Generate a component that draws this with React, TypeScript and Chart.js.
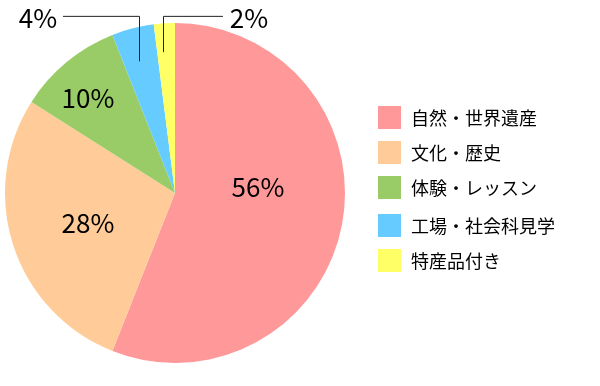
import React, { useEffect, useRef } from "react";
import { Chart, registerables } from "chart.js";

Chart.register(...registerables);

const categories = ["自然・世界遺産", "文化・歴史", "体験・レッスン", "工場・社会科見学", "特産品付き"];
const values = [56, 28, 10, 4, 2];
const percentLabels = ["56%", "28%", "10%", "4%", "2%"];
const colors = ["#FF9999", "#FFCC99", "#99CC66", "#66CCFF", "#FFFF66"];

const FONT = '"Noto Sans CJK JP", "Noto Sans", sans-serif';

const overlay = {
  id: "overlay",
  afterDraw(chart: any) {
    const ctx = chart.ctx;
    const meta = chart.getDatasetMeta(0);
    const arc0 = meta.data[0];
    const cx = arc0.x;
    const cy = arc0.y;
    const r = arc0.outerRadius;
    ctx.save();
    ctx.fillStyle = "#000";
    ctx.font = `26px ${FONT}`;
    ctx.textAlign = "center";
    ctx.textBaseline = "middle";
    const inside: [number, number][] = [
      [0.488, -0.035],
      [-0.512, 0.176],
      [-0.512, -0.559],
    ];
    inside.forEach((o, i) => {
      ctx.fillText(percentLabels[i], cx + o[0] * r, cy + o[1] * r);
    });
    ctx.strokeStyle = "#222";
    ctx.lineWidth = 1;
    const yTop = cy - r * 1.042;
    // 4%
    const a4 = meta.data[3];
    const mid4 = (a4.startAngle + a4.endAngle) / 2;
    const x4 = cx + Math.cos(mid4) * r * 0.85;
    ctx.beginPath();
    ctx.moveTo(cx - r * 0.659, yTop + 0.5);
    ctx.lineTo(Math.round(x4) + 0.5, yTop + 0.5);
    ctx.lineTo(Math.round(x4) + 0.5, cy + Math.sin(mid4) * r * 0.8);
    ctx.stroke();
    ctx.fillText(percentLabels[3], cx - r * 0.806, yTop + 2);
    // 2%
    const a2 = meta.data[4];
    const mid2 = (a2.startAngle + a2.endAngle) / 2;
    const x2 = cx + Math.cos(mid2) * r * 1.1;
    ctx.beginPath();
    ctx.moveTo(Math.round(x2) + 0.5, cy + Math.sin(mid2) * r * 0.83);
    ctx.lineTo(Math.round(x2) + 0.5, yTop + 0.5);
    ctx.lineTo(cx + r * 0.282, yTop + 0.5);
    ctx.stroke();
    ctx.fillText(percentLabels[4], cx + r * 0.435, yTop + 2);

    // legend
    const lx = 378;
    const rowsY = [117, 152, 187, 225, 260];
    ctx.font = `18px ${FONT}`;
    ctx.textAlign = "left";
    categories.forEach((c, i) => {
      ctx.fillStyle = colors[i];
      ctx.fillRect(lx, rowsY[i] - 11, 23, 23);
      ctx.fillStyle = "#000";
      ctx.fillText(c, lx + 33, rowsY[i] + 1);
    });
    ctx.restore();
  },
};

export default function App() {
  const ref = useRef<HTMLCanvasElement>(null);
  useEffect(() => {
    document.body.style.margin = "0";
    const chart = new Chart(ref.current!, {
      type: "pie",
      data: {
        labels: categories,
        datasets: [
          {
            data: values,
            backgroundColor: colors,
            borderWidth: 0,
          },
        ],
      },
      options: {
        animation: false,
        responsive: false,
        rotation: 0,
        layout: { padding: { left: 5, top: 23, bottom: 23, right: 255 } },
        plugins: { legend: { display: false }, tooltip: { enabled: false } },
      },
      plugins: [overlay],
    });
    return () => chart.destroy();
  }, []);
  return (
    <div style={{ width: 600, height: 386, background: "#fff" }}>
      <canvas ref={ref} width={600} height={386} />
    </div>
  );
}
